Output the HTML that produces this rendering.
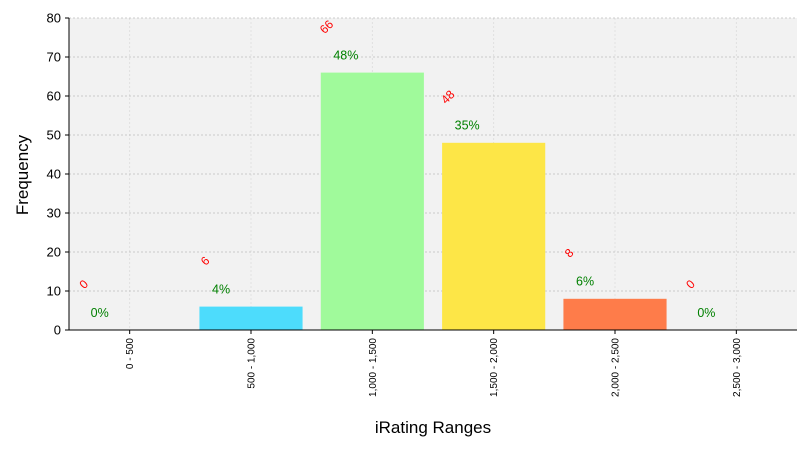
<!DOCTYPE html>
<html><head><meta charset="utf-8"><style>
body{margin:0;background:#fff;font-family:"Liberation Sans","DejaVu Sans",sans-serif}
svg text{font-family:"Liberation Sans","DejaVu Sans",sans-serif}
</style></head><body>
<svg id="c" width="810" height="450"></svg>
<script>
const categories=["0 - 500","500 - 1,000","1,000 - 1,500","1,500 - 2,000","2,000 - 2,500","2,500 - 3,000"];
const counts=[0,6,66,48,8,0];
const percents=["0%","4%","48%","35%","6%","0%"];
const colors=["#4ddcfc","#4ddcfc","#a0fa9b","#fde647","#fe7c4a","#fe7c4a"];
const yTicks=[0,10,20,30,40,50,60,70,80];
const L=69,R=797,T=18,B=330,yMax=80;
const xs=i=>L+(i+0.5)*(R-L)/categories.length;
const ys=v=>B-v*(B-T)/yMax;
const bw=0.85*(R-L)/categories.length;
const svg=document.getElementById('c');
const NS="http://www.w3.org/2000/svg";
function mk(tag,a,txt){const e=document.createElementNS(NS,tag);for(const k in a)e.setAttribute(k,a[k]);if(txt!=null)e.textContent=txt;svg.appendChild(e);return e;}
let e=mk('rect',{x:L,y:T,width:R-L,height:B-T,fill:'#f2f2f2'});


categories.forEach((c,i)=>{
 e=mk('line',{x1:xs(i),x2:xs(i),y1:T,y2:B,stroke:'#dcdcdc','stroke-dasharray':'2,2','stroke-width':0.8});
 
 
});
yTicks.forEach(v=>{
 e=mk('line',{x1:L,x2:R,y1:ys(v),y2:ys(v),stroke:'#bdbdbd','stroke-dasharray':'2,2','stroke-width':0.8});
 
 
 e=mk('line',{x1:L-4,x2:L,y1:ys(v),y2:ys(v),stroke:'#000'});
 
 
 e=mk('text',{x:L-8,y:ys(v)+4.5,'text-anchor':'end','font-size':13,fill:'#000'},v);
 
 
});
categories.forEach((c,i)=>{
 const x=xs(i);
 e=mk('rect',{x:x-bw/2,y:ys(counts[i]),width:bw,height:B-ys(counts[i]),fill:colors[i]});
 
 
 e=mk('line',{x1:x,x2:x,y1:B,y2:B+4,stroke:'#000'});
 
 
 e=mk('text',{x:0,y:0,'text-anchor':'end','font-size':10,fill:'#000',transform:`translate(${x+3.5},${B+8}) rotate(-90)`},c);
 
 
 e=mk('text',{x:0,y:0,'text-anchor':'middle','font-size':12,fill:'red',transform:`translate(${x-43},${ys(counts[i]+11)}) rotate(-45)`},counts[i]);
 
 
 e=mk('text',{x:x-39,y:ys(counts[i]+4.4)+4,'font-size':12.5,fill:'green'},percents[i]);
 
 
});
e=mk('line',{x1:L,x2:L,y1:T,y2:B,stroke:'#000','stroke-width':1});


e=mk('line',{x1:L,x2:R,y1:B,y2:B,stroke:'#000','stroke-width':1});


e=mk('text',{x:433,y:433,'text-anchor':'middle','font-size':17,fill:'#000'},'iRating Ranges');


e=mk('text',{x:0,y:0,'text-anchor':'middle','font-size':17,fill:'#000',transform:'translate(28,175) rotate(-90)'},'Frequency');


</script>
</body></html>
